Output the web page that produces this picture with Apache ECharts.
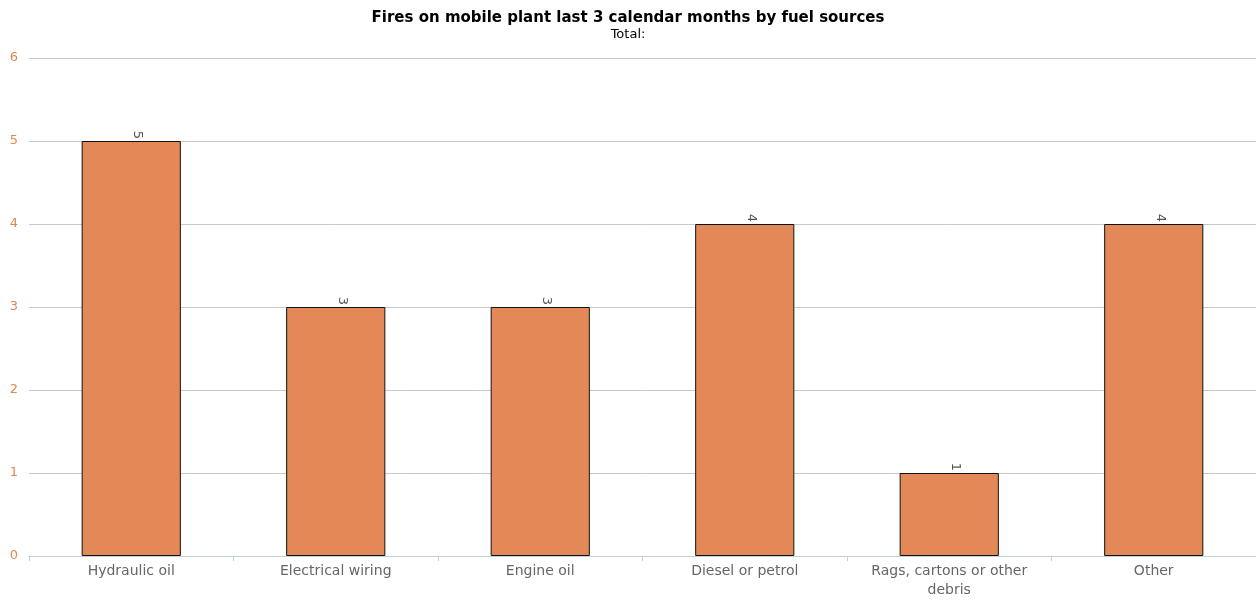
<!DOCTYPE html>
<html>
<head>
<meta charset="utf-8">
<script src="https://cdn.jsdelivr.net/npm/echarts@6/dist/echarts.min.js"></script>
<style>html,body{margin:0;padding:0;background:#fff}#c{width:1256px;height:600px}</style>
</head>
<body>
<div id="c"></div>
<script>
var categories = ['Hydraulic oil', 'Electrical wiring', 'Engine oil', 'Diesel or petrol', 'Rags, cartons or other\ndebris', 'Other'];
var values = [5, 3, 3, 4, 1, 4];
var yTicks = [0, 1, 2, 3, 4, 5, 6];

var chart = echarts.init(document.getElementById('c'));
chart.setOption({
  animation: false,
  textStyle: { fontFamily: 'DejaVu Sans' },
  title: {
    text: 'Fires on mobile plant last 3 calendar months by fuel sources',
    subtext: 'Total:',
    left: 'center',
    top: 6,
    itemGap: 2,
    textStyle: { fontFamily: 'DejaVu Sans', fontSize: 15, fontWeight: 'bold', color: '#000' },
    subtextStyle: { fontFamily: 'DejaVu Sans', fontSize: 13, color: '#000' }
  },
  grid: { left: 29, right: 0, top: 58, bottom: 40, containLabel: false },
  xAxis: {
    type: 'category',
    data: categories,
    axisLine: { lineStyle: { color: '#c0d0e0' } },
    axisTick: { show: true, alignWithLabel: false, lineStyle: { color: '#c0d0e0' }, length: 5 },
    axisLabel: { color: '#666', fontSize: 14, fontFamily: 'DejaVu Sans', interval: 0, margin: 6, lineHeight: 19 }
  },
  yAxis: {
    type: 'value',
    min: yTicks[0],
    max: yTicks[yTicks.length - 1],
    interval: 1,
    axisLine: { show: false },
    axisTick: { show: false },
    axisLabel: { color: '#e0884f', fontSize: 13, fontFamily: 'DejaVu Sans', margin: 11 },
    splitLine: { lineStyle: { color: '#c8c8c8' } }
  },
  series: [{
    type: 'bar',
    data: values,
    barWidth: '48.5%',
    itemStyle: { color: '#e38957', borderColor: '#111', borderWidth: 1 },
    label: {
      show: true,
      position: 'top',
      rotate: -90,
      distance: 6,
      color: '#555',
      fontSize: 13,
      fontFamily: 'DejaVu Sans'
    }
  }]
});
</script>
</body>
</html>
